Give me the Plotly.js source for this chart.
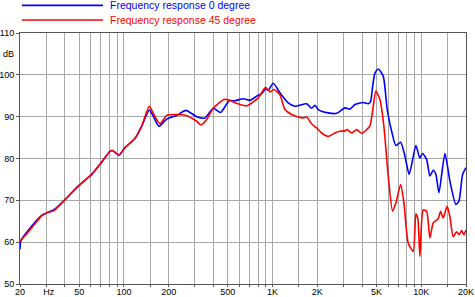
<!DOCTYPE html>
<html>
<head>
<meta charset="utf-8">
<script src="https://cdn.plot.ly/plotly-3.0.1.min.js"></script>
<style>
html,body{margin:0;padding:0;background:#fff;}
#chart{width:475px;height:297px;}
</style>
</head>
<body>
<div id="chart"></div>
<script>
// Frequency response 0 degree (Hz, dB)
const freq0 = [20, 20.1, 20.3, 23.4, 28.0, 30.2, 34.0, 39.7, 49.3, 60.7, 69.0, 80.6, 83.5, 88.4, 92.7, 101.7, 118.7, 131.6, 148.1, 157.6, 172.2, 193.9, 226.4, 261.4, 308.6, 350.8, 399, 447, 511, 558, 635, 704, 781, 844, 898, 935, 1010, 1121, 1274, 1414, 1695, 1830, 1927, 2028, 2368, 2697, 3066, 3314, 3580, 4071, 4398, 4560, 4709, 4880, 5134, 5548, 5904, 6320, 6756, 7266, 7766, 8300, 9206, 9794, 10212, 10866, 11436, 12036, 12550, 13146, 14432, 15586, 17106, 17920, 18976, 20000];
const db0 = [58.3, 59.5, 60.4, 63.4, 66.4, 67.0, 67.8, 70.0, 73.4, 76.2, 78.6, 81.7, 81.9, 81.3, 80.8, 82.6, 84.8, 87.7, 91.6, 90.1, 87.7, 89.4, 90.3, 91.5, 90.0, 89.7, 92.0, 91.0, 93.8, 93.8, 94.3, 93.9, 94.9, 95.5, 96.6, 96.3, 98.0, 95.7, 93.3, 92.5, 93.1, 92.0, 92.7, 91.7, 90.9, 90.8, 92.1, 91.8, 92.9, 93.4, 93.1, 93.6, 97.2, 100.4, 101.4, 99.7, 91.7, 86.5, 83.1, 83.9, 80.6, 76.2, 83.1, 80.1, 81.2, 79.8, 75.8, 77.2, 76.2, 71.8, 81.2, 74.6, 69.0, 69.8, 76.2, 77.8];

// Frequency response 45 degree (Hz, dB)
const freq45 = [20, 20.3, 23.4, 28.0, 30.2, 34.0, 39.7, 49.3, 60.7, 69.0, 80.6, 83.5, 88.4, 92.7, 101.7, 118.7, 131.6, 148.1, 157.6, 174.8, 193.9, 226.4, 261.4, 308.6, 329.8, 360.2, 399, 470.9, 516.8, 558, 669, 801, 898, 960, 1021, 1121, 1211, 1343, 1488, 1608, 1695, 1830, 1978, 2138, 2368, 2626, 2838, 3066, 3178, 3402, 3676, 3972, 4292, 4516, 4694, 4956, 5272, 5608, 5996, 6418, 6756, 7266, 7646, 8172, 8830, 9206, 9496, 9794, 10308, 10866, 11436, 12036, 13004, 13496, 14050, 14948, 15586, 16406, 17294, 18004, 18678, 19360, 20000];
const db45 = [60.3, 60.5, 63.0, 66.3, 67.0, 67.6, 70.0, 73.4, 76.2, 78.6, 81.7, 81.9, 81.3, 80.8, 82.6, 84.8, 87.7, 92.5, 90.8, 88.3, 90.3, 90.5, 90.3, 88.9, 88.0, 89.3, 92.0, 94.1, 93.9, 93.3, 92.6, 94.5, 97.0, 95.9, 96.5, 95.2, 91.7, 90.5, 89.9, 89.7, 89.9, 88.3, 87.3, 86.1, 85.3, 86.1, 86.5, 86.6, 86.9, 86.1, 86.9, 86.0, 86.9, 87.8, 91.0, 96.1, 94.1, 87.7, 75.8, 67.4, 69.4, 73.8, 69.4, 59.8, 57.8, 66.8, 65.5, 56.6, 67.7, 67.4, 61.0, 64.6, 65.6, 67.4, 65.8, 68.6, 66.1, 61.3, 62.5, 61.8, 62.8, 61.8, 62.9];

const seriesNames = ['Frequency response 0 degree', 'Frequency response 45 degree'];
const seriesColors = ['#0000ff', '#ff0000'];

// Axis ticks
const xGridVals = [20,30,40,50,60,70,80,90,100,150,200,300,400,500,600,700,800,900,1000,1500,2000,3000,4000,5000,6000,7000,8000,9000,10000,15000,20000];
const xTickText = ['20','\u00a0\u00a0Hz','','50','','','','','100','','200','','','500','','','','','1K','','2K','','','5K','','','','','10K','','20K'];
const yTickVals = [50,60,70,80,90,100,110];
const yTickText = ['50','60','70','80','90','100','110'];
const yRange = [50, 110];
const yUnit = 'dB';
const yUnitAt = 105;

const FONT = 'Liberation Sans, Arial, Helvetica, sans-serif';

const traces = [
  {x: freq0, y: db0, type: 'scatter', mode: 'lines', name: seriesNames[0],
   line: {color: seriesColors[0], width: 1.6, shape: 'spline', smoothing: 0.6}, showlegend: false},
  {x: freq45, y: db45, type: 'scatter', mode: 'lines', name: seriesNames[1],
   line: {color: seriesColors[1], width: 1.6, shape: 'spline', smoothing: 0.6}, showlegend: false}
];

// Manual legend (long line keys as in the original)
const legendY = [1.110, 1.052];
const shapes = seriesNames.map((n, i) => ({
  type: 'line', xref: 'paper', yref: 'paper',
  x0: 0.0045, x1: 0.186, y0: legendY[i], y1: legendY[i],
  line: {color: seriesColors[i], width: 1.6}
}));
const annotations = seriesNames.map((n, i) => ({
  xref: 'paper', yref: 'paper', x: 0.197, y: legendY[i],
  xanchor: 'left', yanchor: 'middle', showarrow: false, text: n,
  font: {family: FONT, size: 10.5, color: seriesColors[i]}
}));
annotations.push({
  xref: 'paper', yref: 'paper', x: 0,
  y: (yUnitAt - yRange[0]) / (yRange[1] - yRange[0]),
  xanchor: 'right', yanchor: 'middle',
  xshift: -4, showarrow: false, text: yUnit, font: {family: FONT, size: 9, color: '#000'}
});

const layout = {
  width: 475, height: 297,
  margin: {l: 20, r: 9, t: 33, b: 13, pad: 0},
  paper_bgcolor: '#fff', plot_bgcolor: '#fff',
  font: {family: FONT, size: 9, color: '#000'},
  xaxis: {
    type: 'log', range: [Math.log10(20), Math.log10(20000)],
    tickmode: 'array', tickvals: xGridVals, ticktext: xTickText,
    showgrid: true, gridcolor: '#a8a8a8', gridwidth: 1,
    showline: true, linecolor: '#555', linewidth: 1, mirror: true,
    ticks: 'outside', ticklen: 2, tickcolor: '#555',
    ticklabelstandoff: -3,
    tickfont: {family: FONT, size: 9, color: '#000'}, zeroline: false
  },
  yaxis: {
    range: yRange, tickmode: 'array', tickvals: yTickVals, ticktext: yTickText,
    showgrid: true, gridcolor: '#a8a8a8', gridwidth: 1,
    showline: true, linecolor: '#555', linewidth: 1, mirror: true,
    ticks: 'outside', ticklen: 3, tickcolor: '#555',
    tickfont: {family: FONT, size: 9, color: '#000'}, zeroline: false
  },
  shapes: shapes,
  annotations: annotations,
  showlegend: false
};

Plotly.newPlot('chart', traces, layout, {staticPlot: true, displayModeBar: false});
</script>
</body>
</html>
